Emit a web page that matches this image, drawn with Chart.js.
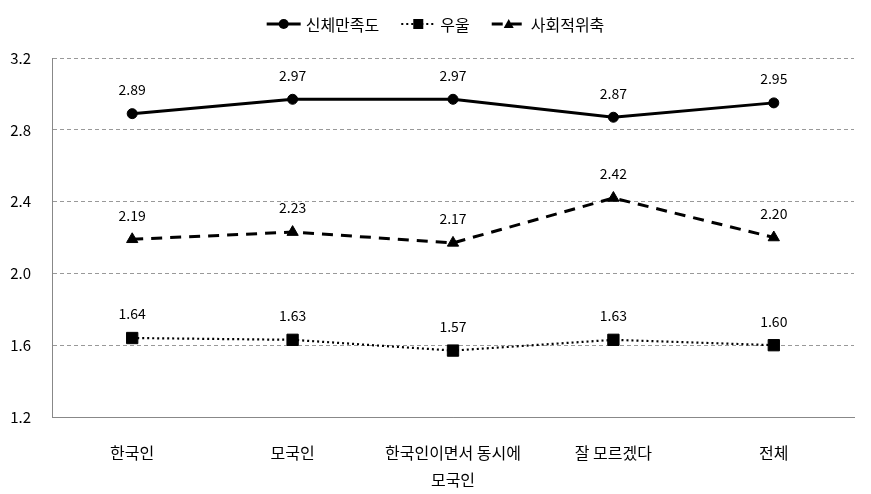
<!DOCTYPE html>
<html>
<head>
<meta charset="utf-8">
<script src="https://cdn.jsdelivr.net/npm/chart.js@4"></script>
<style>
  html, body { margin: 0; padding: 0; background: #fff; }
  #wrap { width: 871px; height: 494px; }
</style>
</head>
<body>
<div id="wrap"><canvas id="chart" width="871" height="494"></canvas></div>
<script>
// données
const categories = ['한국인', '모국인', ['한국인이면서 동시에', '모국인'], '잘 모르겠다', '전체'];
const seriesNames = ['신체만족도', '우울', '사회적위축'];
const bodySatisfaction = [2.89, 2.97, 2.97, 2.87, 2.95];
const depression = [1.64, 1.63, 1.57, 1.63, 1.60];
const socialWithdrawal = [2.19, 2.23, 2.17, 2.42, 2.20];
const yTicks = [1.2, 1.6, 2.0, 2.4, 2.8, 3.2];

const FONT = '"Noto Sans CJK KR", "Noto Sans", sans-serif';

// étiquettes de valeur au-dessus des points
const valueLabels = {
    id: 'valueLabels',
    afterDatasetsDraw(chart) {
        const ctx = chart.ctx;
        ctx.save();
        ctx.font = '14px ' + FONT;
        ctx.fillStyle = '#000';
        ctx.textAlign = 'center';
        ctx.textBaseline = 'middle';
        chart.data.datasets.forEach((ds, i) => {
            chart.getDatasetMeta(i).data.forEach((pt, j) => {
                ctx.fillText(ds.data[j].toFixed(2), pt.x, pt.y - 24);
            });
        });
        ctx.restore();
    }
};

// légende : trait + marqueur
const lineLegend = {
    id: 'lineLegend',
    afterDraw(chart) {
        const ctx = chart.ctx;
        ctx.save();
        ctx.font = '16px ' + FONT;
        const iconW = 34, gap = 5, spacing = 22, y = 24;
        const items = chart.data.datasets.map(ds => ({ ds, w: iconW + gap + ctx.measureText(ds.label).width }));
        const total = items.reduce((a, b) => a + b.w, 0) + spacing * (items.length - 1);
        let x = (chart.width - total) / 2;
        items.forEach(({ ds, w }) => {
            ctx.strokeStyle = '#000';
            ctx.lineWidth = ds.borderWidth;
            ctx.setLineDash(ds.borderDash || []);
            ctx.beginPath();
            ctx.moveTo(x, y);
            ctx.lineTo(x + iconW, y);
            ctx.stroke();
            ctx.setLineDash([]);
            ctx.fillStyle = '#000';
            const cx = x + iconW / 2;
            const r = 5;
            ctx.beginPath();
            if (ds.pointStyle === 'circle') {
                ctx.arc(cx, y, r, 0, Math.PI * 2);
            } else if (ds.pointStyle === 'rect') {
                ctx.rect(cx - r, y - r, r * 2, r * 2);
            } else {
                ctx.moveTo(cx, y - r);
                ctx.lineTo(cx + r, y + r * 0.8);
                ctx.lineTo(cx - r, y + r * 0.8);
                ctx.closePath();
            }
            ctx.fill();
            ctx.textBaseline = 'middle';
            ctx.textAlign = 'left';
            ctx.fillText(ds.label, x + iconW + gap, y + 1);
            x += w + spacing;
        });
        ctx.restore();
    }
};

new Chart(document.getElementById('chart'), {
    type: 'line',
    data: {
        labels: categories,
        datasets: [
            {
                label: seriesNames[0],
                data: bodySatisfaction,
                borderColor: '#000',
                backgroundColor: '#000',
                borderWidth: 3,
                pointStyle: 'circle',
                pointRadius: 5,
                pointBorderWidth: 1,
                tension: 0
            },
            {
                label: seriesNames[1],
                data: depression,
                borderColor: '#000',
                backgroundColor: '#000',
                borderWidth: 2.2,
                borderDash: [2, 3],
                pointStyle: 'rect',
                pointRadius: 8,
                pointBorderWidth: 1,
                tension: 0
            },
            {
                label: seriesNames[2],
                data: socialWithdrawal,
                borderColor: '#000',
                backgroundColor: '#000',
                borderWidth: 3,
                borderDash: [11, 8],
                pointStyle: 'triangle',
                pointRadius: 6.5,
                pointBorderWidth: 1,
                tension: 0
            }
        ]
    },
    options: {
        responsive: false,
        animation: false,
        layout: { padding: { top: 58, right: 17, left: 0, bottom: 0 } },
        plugins: {
            legend: { display: false },
            tooltip: { enabled: false }
        },
        scales: {
            x: {
                offset: true,
                grid: { display: false },
                border: { display: true, color: '#888', width: 1 },
                ticks: {
                    color: '#000',
                    font: { family: FONT, size: 16, lineHeight: 1.7 },
                    padding: 14,
                    maxRotation: 0
                },
                afterFit(scale) { scale.height = 77; }
            },
            y: {
                min: 1.2,
                max: 3.2,
                afterBuildTicks(scale) { scale.ticks = yTicks.map(v => ({ value: v })); },
                grid: { color: '#999', lineWidth: 1, drawTicks: false },
                border: { display: true, color: '#888', width: 1, dash: [4, 3] },
                ticks: {
                    color: '#000',
                    font: { family: FONT, size: 15 },
                    padding: 21,
                    callback: v => v.toFixed(1)
                },
                afterFit(scale) { scale.width = 52; }
            }
        }
    },
    plugins: [valueLabels, lineLegend]
});
</script>
</body>
</html>
